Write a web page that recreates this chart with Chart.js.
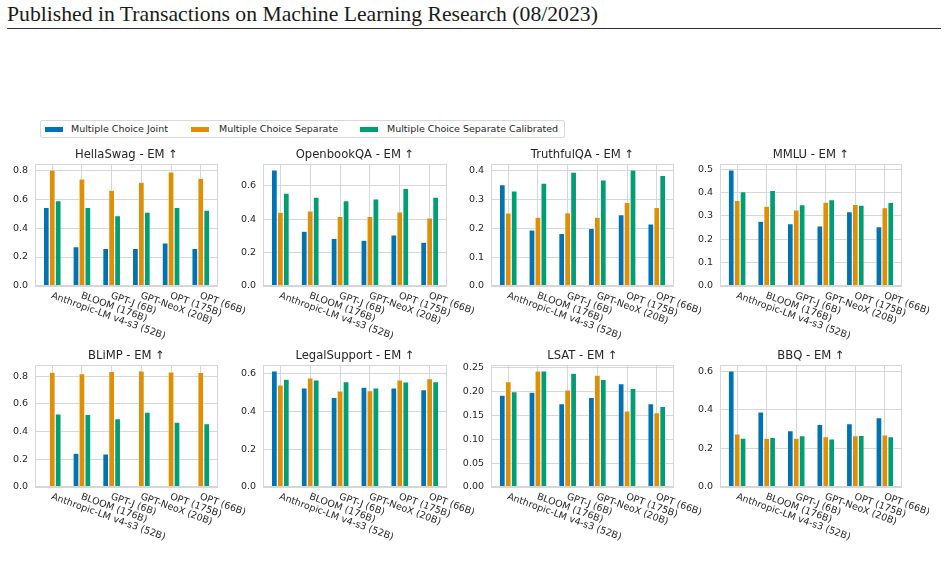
<!DOCTYPE html>
<html>
<head>
<meta charset="utf-8">
<script src="https://cdn.jsdelivr.net/npm/chart.js@4.4.0/dist/chart.umd.min.js"></script>
<style>
  body { margin: 0; width: 948px; height: 575px; background: #fff; position: relative; overflow: hidden; font-family: 'DejaVu Sans', sans-serif; }
  #header { position: absolute; left: 7px; top: 2px; font-family: 'Liberation Serif', serif; font-size: 21.7px; color: #1a1a1a; white-space: nowrap; }
  #rule { position: absolute; left: 7px; top: 28px; width: 934px; height: 1px; background: #333; }
  #legend { position: absolute; left: 40px; top: 120px; width: 523px; height: 16px; border: 1px solid #d9d9d9; border-radius: 2px; }
  .patch { position: absolute; top: 5.5px; width: 18px; height: 5px; }
  .lbl { position: absolute; top: 1px; font-size: 9.5px; line-height: 14px; color: #262626; white-space: nowrap; }
  canvas { position: absolute; }
</style>
</head>
<body>
<div id="header">Published in Transactions on Machine Learning Research (08/2023)</div>
<div id="rule"></div>
<div id="legend"></div>

<script>
// models on the x axis and the three prompting methods
const models = ['Anthropic-LM v4-s3 (52B)', 'BLOOM (176B)', 'GPT-J (6B)', 'GPT-NeoX (20B)', 'OPT (175B)', 'OPT (66B)'];
const methods = ['Multiple Choice Joint', 'Multiple Choice Separate', 'Multiple Choice Separate Calibrated'];
const colors = ['#0173b2', '#de8f05', '#029e73'];

// EM values (one array per method, in model order)
const hellaswagJoint = [0.543, 0.271, 0.260, 0.260, 0.297, 0.260];
const hellaswagSeparate = [0.802, 0.740, 0.661, 0.717, 0.788, 0.744];
const hellaswagCalibrated = [0.589, 0.543, 0.485, 0.510, 0.543, 0.524];
const hellaswagTicks = ['0.0', '0.2', '0.4', '0.6', '0.8'];

const openbookJoint = [0.695, 0.328, 0.284, 0.274, 0.306, 0.262];
const openbookSeparate = [0.441, 0.449, 0.417, 0.417, 0.443, 0.407];
const openbookCalibrated = [0.556, 0.532, 0.511, 0.521, 0.584, 0.532];
const openbookTicks = ['0.0', '0.2', '0.4', '0.6'];

const truthfulJoint = [0.351, 0.194, 0.182, 0.199, 0.247, 0.215];
const truthfulSeparate = [0.253, 0.238, 0.254, 0.238, 0.289, 0.272];
const truthfulCalibrated = [0.329, 0.356, 0.394, 0.367, 0.402, 0.383];
const truthfulTicks = ['0.0', '0.1', '0.2', '0.3', '0.4'];

const mmluJoint = [0.497, 0.277, 0.267, 0.257, 0.318, 0.254];
const mmluSeparate = [0.366, 0.342, 0.325, 0.359, 0.349, 0.335];
const mmluCalibrated = [0.404, 0.409, 0.348, 0.369, 0.346, 0.358];
const mmluTicks = ['0.0', '0.1', '0.2', '0.3', '0.4', '0.5'];

const blimpJoint = [0, 0.244, 0.239, 0, 0, 0];
const blimpSeparate = [0.829, 0.819, 0.834, 0.839, 0.831, 0.827];
const blimpCalibrated = [0.527, 0.524, 0.493, 0.541, 0.469, 0.457];
const blimpTicks = ['0.0', '0.2', '0.4', '0.6', '0.8'];

const legalJoint = [0.614, 0.524, 0.474, 0.527, 0.524, 0.515];
const legalSeparate = [0.540, 0.577, 0.508, 0.509, 0.566, 0.572];
const legalCalibrated = [0.570, 0.566, 0.557, 0.524, 0.556, 0.557];
const legalTicks = ['0.0', '0.2', '0.4', '0.6'];

const lsatJoint = [0.193, 0.199, 0.175, 0.188, 0.217, 0.175];
const lsatSeparate = [0.221, 0.244, 0.204, 0.235, 0.160, 0.156];
const lsatCalibrated = [0.200, 0.244, 0.239, 0.226, 0.207, 0.169];
const lsatTicks = ['0.00', '0.05', '0.10', '0.15', '0.20', '0.25'];

const bbqJoint = [0.603, 0.390, 0.292, 0.325, 0.329, 0.360];
const bbqSeparate = [0.275, 0.254, 0.254, 0.261, 0.266, 0.270];
const bbqCalibrated = [0.254, 0.257, 0.266, 0.250, 0.268, 0.261];
const bbqTicks = ['0.0', '0.2', '0.4', '0.6'];

const panels = [
  { title: 'HellaSwag - EM ↑', series: [hellaswagJoint, hellaswagSeparate, hellaswagCalibrated], ticks: hellaswagTicks },
  { title: 'OpenbookQA - EM ↑', series: [openbookJoint, openbookSeparate, openbookCalibrated], ticks: openbookTicks },
  { title: 'TruthfulQA - EM ↑', series: [truthfulJoint, truthfulSeparate, truthfulCalibrated], ticks: truthfulTicks },
  { title: 'MMLU - EM ↑', series: [mmluJoint, mmluSeparate, mmluCalibrated], ticks: mmluTicks },
  { title: 'BLiMP - EM ↑', series: [blimpJoint, blimpSeparate, blimpCalibrated], ticks: blimpTicks },
  { title: 'LegalSupport - EM ↑', series: [legalJoint, legalSeparate, legalCalibrated], ticks: legalTicks },
  { title: 'LSAT - EM ↑', series: [lsatJoint, lsatSeparate, lsatCalibrated], ticks: lsatTicks },
  { title: 'BBQ - EM ↑', series: [bbqJoint, bbqSeparate, bbqCalibrated], ticks: bbqTicks }
];

// plot-area rectangles in page pixels: [left, right, top, bottom]
const boxes = [
  [35, 218, 164, 286], [263, 447, 164, 286], [491, 674, 164, 286], [720, 902, 164, 286],
  [35, 218, 365, 487], [263, 447, 365, 487], [491, 674, 365, 487], [720, 902, 365, 487]
];

const textColor = '#262626';
const gridColor = '#d6d6d6';
const AXIS_W = 40, TITLE_H = 30, PAD_R = 45, PAD_B = 62;

Chart.defaults.font.family = "'DejaVu Sans'";
Chart.defaults.color = textColor;

/** legend row (html, like the matplotlib one) */
function buildLegend() {
  const lg = document.getElementById('legend');
  const patchX = [4, 150, 319];
  const textX = [30, 178, 346];
  methods.forEach((m, i) => {
    const p = document.createElement('div');
    p.className = 'patch';
    p.style.left = patchX[i] + 'px';
    p.style.background = colors[i];
    lg.appendChild(p);
    const t = document.createElement('div');
    t.className = 'lbl';
    t.style.left = textX[i] + 'px';
    t.textContent = m;
    lg.appendChild(t);
  });
}

// grey frame around the axes (all four spines)
const frame = {
  id: 'frame',
  afterDatasetsDraw(chart) {
    const { ctx, chartArea: a } = chart;
    ctx.save();
    ctx.strokeStyle = gridColor;
    ctx.lineWidth = 1;
    ctx.strokeRect(Math.round(a.left) + 0.5, Math.round(a.top) + 0.5,
      Math.round(a.right - a.left) - 1, Math.round(a.bottom - a.top) - 1);
    ctx.restore();
  }
};

// model names, rotated clockwise and hanging from the tick (chart.js only rotates the other way)
const modelLabels = {
  id: 'modelLabels',
  afterDraw(chart) {
    const { ctx } = chart;
    const xs = chart.scales.x;
    const bottom = chart.chartArea.bottom;
    ctx.save();
    ctx.font = "9.5px 'DejaVu Sans'";
    ctx.fillStyle = textColor;
    ctx.textAlign = 'left';
    ctx.textBaseline = 'top';
    models.forEach((m, i) => {
      ctx.save();
      ctx.translate(xs.getPixelForValue(i) + 1, bottom + 5);
      ctx.rotate(20 * Math.PI / 180);
      ctx.fillText(m, 0, 0);
      ctx.restore();
    });
    ctx.restore();
  }
};

function makePanel(panel, box) {
  const [l, r, t, b] = box;
  const cv = document.createElement('canvas');
  const w = (r - l) + AXIS_W + PAD_R;
  const h = (b - t) + TITLE_H + PAD_B;
  cv.width = w;
  cv.height = h;
  cv.style.left = (l - AXIS_W) + 'px';
  cv.style.top = (t - TITLE_H) + 'px';
  document.body.appendChild(cv);

  const all = panel.series.flat();
  const yMax = Math.max(...all) * 1.05;

  new Chart(cv, {
    type: 'bar',
    data: {
      datasets: panel.series.map((vals, k) => ({
        label: methods[k],
        data: vals.map((v, i) => ({ x: i, y: v })),
        backgroundColor: colors[k],
        borderColor: '#ffffff',
        borderWidth: 0.6,
        barPercentage: 1,
        categoryPercentage: 0.6
      }))
    },
    options: {
      responsive: false,
      animation: false,
      layout: { padding: { left: 0, right: PAD_R, top: 0, bottom: PAD_B } },
      plugins: {
        legend: { display: false },
        tooltip: { enabled: false },
        title: {
          display: true,
          fullSize: false,
          text: panel.title,
          color: textColor,
          font: { size: 11.6, weight: 'normal' },
          padding: { top: 14, bottom: 2.08 }
        }
      },
      scales: {
        x: {
          type: 'linear',
          offset: false,
          min: -0.58,
          max: models.length - 1 + 0.58,
          afterBuildTicks: ax => { ax.ticks = models.map((m, i) => ({ value: i })); },
          ticks: { display: false },
          grid: { color: gridColor, drawTicks: false, offset: false },
          border: { display: false }
        },
        y: {
          min: 0,
          max: yMax,
          afterBuildTicks: ax => { ax.ticks = panel.ticks.map(s => ({ value: parseFloat(s) })); },
          afterFit: ax => { ax.width = AXIS_W; },
          ticks: {
            padding: 7,
            color: textColor,
            font: { size: 9.5 },
            callback: (v, i) => panel.ticks[i]
          },
          grid: { color: gridColor, drawTicks: false },
          border: { display: false }
        }
      }
    },
    plugins: [frame, modelLabels]
  });
}

buildLegend();
panels.forEach((p, i) => makePanel(p, boxes[i]));
</script>
</body>
</html>
